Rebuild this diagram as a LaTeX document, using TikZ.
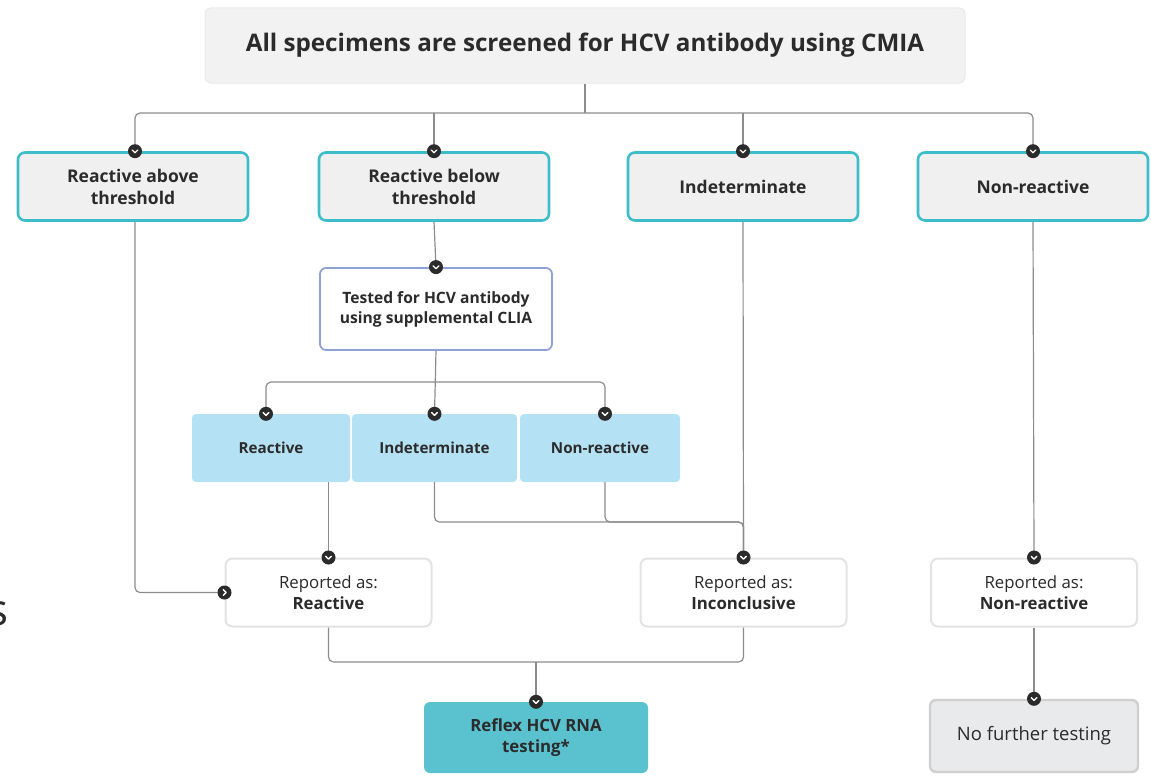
\documentclass[tikz,border=0pt]{standalone}
\usepackage{fontspec}
\setmainfont{Open Sans}
\usetikzlibrary{calc}

\definecolor{inkc}{HTML}{2B2B2B}
\definecolor{linec}{HTML}{8C8C8C}
\definecolor{topfill}{HTML}{F2F2F2}
\definecolor{topline}{HTML}{EAEAEA}
\definecolor{tealline}{HTML}{3DBDC9}
\definecolor{boxfill}{HTML}{F0F0F0}
\definecolor{clialine}{HTML}{8EA2D8}
\definecolor{skyfill}{HTML}{B5E1F5}
\definecolor{repline}{HTML}{E3E3E3}
\definecolor{rnafill}{HTML}{5AC2CF}
\definecolor{endfill}{HTML}{E9EAEC}
\definecolor{endline}{HTML}{CFCFCF}

\tikzset{
  conn/.style={draw=linec, line width=1.2pt, rounded corners=5pt},
  topbox/.style={draw=topline, fill=topfill, line width=1pt, rounded corners=6pt,
    minimum width=760pt, minimum height=75pt, font=\fontsize{24.2}{28}\selectfont\bfseries},
  firstbox/.style={draw=tealline, fill=boxfill, line width=2.6pt, rounded corners=7pt,
    minimum width=230pt, minimum height=68pt, align=center,
    font=\fontsize{17.5}{22}\selectfont\bfseries},
  cliabox/.style={draw=clialine, fill=white, line width=1.8pt, rounded corners=6pt,
    minimum width=232pt, minimum height=82pt, align=center,
    font=\fontsize{15.6}{20}\selectfont\bfseries},
  skybox/.style={fill=skyfill, rounded corners=4pt, minimum height=68pt,
    font=\fontsize{15.2}{20}\selectfont\bfseries},
  repbox/.style={draw=repline, fill=white, line width=2pt, rounded corners=7pt,
    minimum width=206pt, minimum height=68pt, align=center,
    font=\fontsize{16.8}{21}\selectfont},
  rnabox/.style={fill=rnafill, rounded corners=6pt, minimum width=224pt,
    minimum height=71pt, align=center, font=\fontsize{16.8}{21}\selectfont\bfseries},
  endbox/.style={draw=endline, fill=endfill, line width=2.4pt, rounded corners=6pt,
    minimum width=208pt, minimum height=72pt, font=\fontsize{18.5}{22}\selectfont},
  dotd/.style={circle, fill=inkc, minimum size=14pt, inner sep=0pt,
    path picture={\draw[white, line width=1.3pt, line cap=round, line join=round]
      ([xshift=-2.8pt,yshift=1.2pt]path picture bounding box.center)
      -- ([yshift=-1.6pt]path picture bounding box.center)
      -- ([xshift=2.8pt,yshift=1.2pt]path picture bounding box.center);}},
  dotr/.style={circle, fill=inkc, minimum size=14pt, inner sep=0pt,
    path picture={\draw[white, line width=1.3pt, line cap=round, line join=round]
      ([xshift=-1.2pt,yshift=2.8pt]path picture bounding box.center)
      -- ([xshift=1.6pt]path picture bounding box.center)
      -- ([xshift=-1.2pt,yshift=-2.8pt]path picture bounding box.center);}}
}

\begin{document}
\begin{tikzpicture}[x=1pt, y=-1pt, text=inkc]
  \useasboundingbox (0,0) rectangle (1151,776);

  % cut-off letter at the left edge
  \node[anchor=east, inner sep=0pt, font=\fontsize{44}{44}\selectfont] (frag) at (9,614) {s};

  % screening and first results
  \node[topbox] (screen) at (585,45.5) {All specimens are screened for HCV antibody using CMIA};
  \node[firstbox] (above) at (133,186.5) {Reactive above\\threshold};
  \node[firstbox] (below) at (434,186.5) {Reactive below\\threshold};
  \node[firstbox] (indet) at (743,186.5) {Indeterminate};
  \node[firstbox] (nonre) at (1033,186.5) {Non-reactive};

  % supplemental test
  \node[cliabox] (clia) at (436,309) {Tested for HCV antibody\\using supplemental CLIA};
  \node[skybox, minimum width=158pt] (sReact) at (271,448) {Reactive};
  \node[skybox, minimum width=165pt] (sIndet) at (434.5,448) {Indeterminate};
  \node[skybox, minimum width=160pt] (sNonre) at (600,448) {Non-reactive};

  % reports
  \node[repbox] (repReact) at (328.5,592.5) {Reported as:\\\textbf{Reactive}};
  \node[repbox] (repIncon) at (743.5,592.5) {Reported as:\\\textbf{Inconclusive}};
  \node[repbox] (repNonre) at (1034,592.5) {Reported as:\\\textbf{Non-reactive}};
  \node[rnabox] (reflex) at (536,737.5) {Reflex HCV RNA\\testing*};
  \node[endbox] (nofurther) at (1034,736) {No further testing};

  \coordinate (splitA) at (585,113);
  \coordinate (splitB) at (436,382);
  \coordinate (mergeC) at (0,522);
  \coordinate (mergeD) at (0,662);

  % connectors
  \draw[conn] (screen.south) -- (splitA);
  \draw[conn] ([xshift=2pt]above.north) |- (nonre.north |- splitA) -- (nonre.north);
  \draw[conn] (below.north) -- (below.north |- splitA);
  \draw[conn] (indet.north) -- (indet.north |- splitA);
  \draw[conn] (below.south) -- (clia.north);
  \draw[conn] (clia.south) -- (sIndet.north);
  \draw[conn] ([xshift=-5pt]sReact.north) |- (splitB) -| ([xshift=5pt]sNonre.north);
  \draw[conn] (repReact.north |- sReact.south) -- (repReact.north);
  \draw[conn] (sIndet.south) |- (repIncon.north |- mergeC) -- (repIncon.north);
  \draw[conn] ([xshift=5pt]sNonre.south) |- (repIncon.north |- mergeC) -- (repIncon.north);
  \draw[conn] (indet.south) -- (repIncon.north);
  \draw[conn] ([xshift=2pt]above.south) |- (repReact.west);
  \draw[conn] (nonre.south) -- (repNonre.north);
  \draw[conn] (repReact.south) |- (repIncon.south |- mergeD) -- (repIncon.south);
  \draw[conn] (reflex.north) -- (reflex.north |- mergeD);
  \draw[conn] (repNonre.south) -- (nofurther.north);

  % markers
  \foreach \p in {below.north, indet.north, nonre.north, clia.north,
                  sIndet.north, repReact.north, repIncon.north, repNonre.north,
                  reflex.north, nofurther.north}
    \node[dotd] at (\p) {};
  \node[dotd] at ([xshift=2pt]above.north) {};
  \node[dotd] at ([xshift=-5pt]sReact.north) {};
  \node[dotd] at ([xshift=5pt]sNonre.north) {};
  \node[dotr] at (repReact.west) {};
\end{tikzpicture}
\end{document}
